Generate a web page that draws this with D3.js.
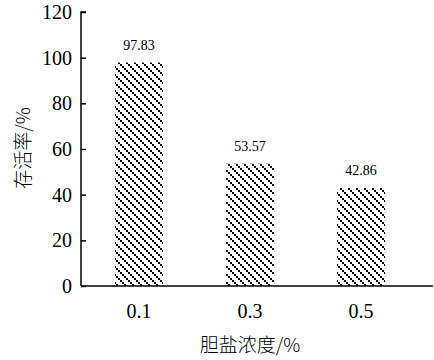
<!DOCTYPE html>
<html>
<head>
<meta charset="utf-8">
<script src="https://cdn.jsdelivr.net/npm/d3@7"></script>
<style>
  html, body { margin: 0; padding: 0; background: #fff; }
  svg { display: block; }
  .num { font-family: "Liberation Serif", "DejaVu Serif", serif; fill: #000; }
  .cjk { font-family: "Noto Sans CJK SC", sans-serif; font-weight: 300; fill: #000; }
</style>
</head>
<body>
<div id="chart"></div>
<script>
// Data
const categories = ['0.1', '0.3', '0.5'];
const survival = [97.83, 53.57, 42.86];
const yTicks = [0, 20, 40, 60, 80, 100, 120];
const xTitle = '胆盐浓度/%';
const yTitle = '存活率/%';

const W = 434, H = 360;
const PLOT = { left: 81, right: 433, top: 12, bottom: 286 };

const svg = d3.select('#chart').append('svg')
  .attr('width', W).attr('height', H);

// dotted downward-diagonal hatch
const defs = svg.append('defs');
const pat = defs.append('pattern')
  .attr('id', 'hatch')
  .attr('patternUnits', 'userSpaceOnUse')
  .attr('width', 8).attr('height', 8);
pat.append('rect').attr('width', 8).attr('height', 8).attr('fill', '#fff');
[0, 2, 4, 6].forEach(i => {
  pat.append('rect').attr('x', i).attr('y', i)
    .attr('width', 2).attr('height', 2).attr('fill', '#000');
});

const x = d3.scaleBand()
  .domain(categories)
  .range([83.5, 416.5])
  .paddingInner(0.565)
  .paddingOuter(0.2825);

const y = d3.scaleLinear()
  .domain([0, 120])
  .range([PLOT.bottom, PLOT.top]);

// bars
const data = categories.map((c, i) => ({ cat: c, val: survival[i] }));

svg.selectAll('.bar')
  .data(data)
  .join('rect')
    .attr('class', 'bar')
    .attr('x', d => x(d.cat))
    .attr('y', d => y(d.val))
    .attr('width', x.bandwidth())
    .attr('height', d => y(0) - y(d.val))
    .attr('fill', 'url(#hatch)');

// value labels
svg.selectAll('.val')
  .data(data)
  .join('text')
    .attr('class', 'num val')
    .attr('x', d => x(d.cat) + x.bandwidth() / 2)
    .attr('y', d => y(d.val) - 13)
    .attr('text-anchor', 'middle')
    .attr('font-size', 14)
    .text(d => d.val.toFixed(2));

// y axis (ticks inward)
const yAxis = svg.append('g')
  .attr('transform', `translate(${PLOT.left},0)`)
  .call(d3.axisRight(y).tickValues(yTicks).tickSize(5).tickFormat(''));
yAxis.selectAll('path, line').attr('stroke', '#000').attr('stroke-width', 1.5);
yAxis.select('.domain').attr('d', `M5,${PLOT.top}H0V${PLOT.bottom}`);

svg.selectAll('.ytick')
  .data(yTicks)
  .join('text')
    .attr('class', 'num ytick')
    .attr('x', PLOT.left - 9)
    .attr('y', d => y(d))
    .attr('dy', '0.35em')
    .attr('text-anchor', 'end')
    .attr('font-size', 20)
    .text(d => d);

// x axis line
svg.append('line')
  .attr('x1', PLOT.left).attr('x2', PLOT.right)
  .attr('y1', PLOT.bottom).attr('y2', PLOT.bottom)
  .attr('stroke', '#000').attr('stroke-width', 1.5);

svg.selectAll('.xtick')
  .data(categories)
  .join('text')
    .attr('class', 'num xtick')
    .attr('x', d => x(d) + x.bandwidth() / 2)
    .attr('y', PLOT.bottom + 32)
    .attr('text-anchor', 'middle')
    .attr('font-size', 20)
    .text(d => d);

// axis titles
svg.append('text')
  .attr('class', 'cjk')
  .attr('x', 250).attr('y', 352)
  .attr('text-anchor', 'middle')
  .attr('font-size', 19)
  .text(xTitle);

svg.append('text')
  .attr('class', 'cjk')
  .attr('transform', 'translate(30,148) rotate(-90)')
  .attr('text-anchor', 'middle')
  .attr('font-size', 19)
  .text(yTitle);
</script>
</body>
</html>
